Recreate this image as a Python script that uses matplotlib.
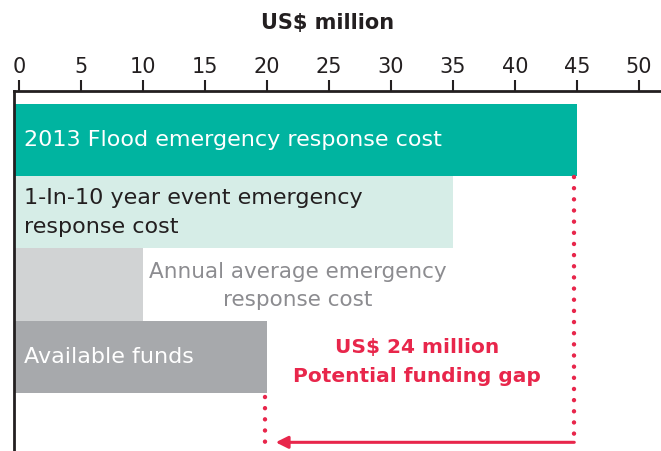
import matplotlib.pyplot as plt

# data
labels = ["2013 Flood emergency response cost",
          "1-In-10 year event emergency\nresponse cost",
          "Annual average emergency\nresponse cost",
          "Available funds"]
values = [45, 35, 10, 20]
colors = ["#00B4A0", "#D6EDE7", "#D1D3D4", "#A7A9AC"]
text_colors = ["white", "#231F20", "#8C8C90", "white"]
ticks = [0, 5, 10, 15, 20, 25, 30, 35, 40, 45, 50]
gap_label = "US$ 24 million\nPotential funding gap"
red = "#E8264B"

plt.rcParams['font.family'] = ['DejaVu Sans']

fig = plt.figure(figsize=(6.61, 4.51), dpi=100)
ax = fig.add_axes([0.0212, 0.0, 0.9788, 0.798])

xmin, xmax = -0.42, 51.8
y = list(range(len(values)))
ax.barh(y, [v - xmin for v in values], left=xmin, height=1.0,
        color=colors, align="center")

for i, (lab, v) in enumerate(zip(labels, values)):
    if v > 15:
        ax.text(0.4, i, lab, ha="left", va="center", color=text_colors[i],
                fontsize=16, linespacing=1.58)
    else:
        ax.text(22.5, i + 0.02, lab, ha="center", va="center",
                color=text_colors[i], fontsize=15.5, linespacing=1.55)

# funding gap annotation
arrow_y = 4.18
ax.plot([values[0] - 0.2, values[0] - 0.2], [0.52, arrow_y], color=red,
        lw=3.2, linestyle=(0, (0.01, 2.5)), dash_capstyle="round")
ax.plot([values[3] - 0.2, values[3] - 0.2], [3.55, 4.3], color=red,
        lw=3.2, linestyle=(0, (0.01, 2.5)), dash_capstyle="round")
ax.annotate("", xy=(values[3] + 0.7, arrow_y), xytext=(values[0] - 0.2, arrow_y),
            arrowprops=dict(arrowstyle="-|>", color=red, lw=2.2,
                            mutation_scale=18, shrinkA=0, shrinkB=0))
ax.text(32.1, 3.07, gap_label, ha="center", va="center", color=red,
        fontsize=14.5, fontweight="bold", linespacing=1.72)

ax.set_xlim(xmin, xmax)
ax.set_ylim(4.3, -0.673)
ax.set_xticks(ticks)
ax.set_yticks([])
ax.xaxis.tick_top()
ax.tick_params(axis="x", direction="out", length=8, width=1.5, pad=2.5,
               labelsize=15, colors="#231F20")
for s in ["right", "bottom"]:
    ax.spines[s].set_visible(False)
for s in ["top", "left"]:
    ax.spines[s].set_linewidth(2)
    ax.spines[s].set_color("#231F20")

fig.text(0.495, 0.949, "US$ million", ha="center", va="center",
         fontsize=15, fontweight="bold", color="#231F20")

fig.savefig("out.png", dpi=100)
